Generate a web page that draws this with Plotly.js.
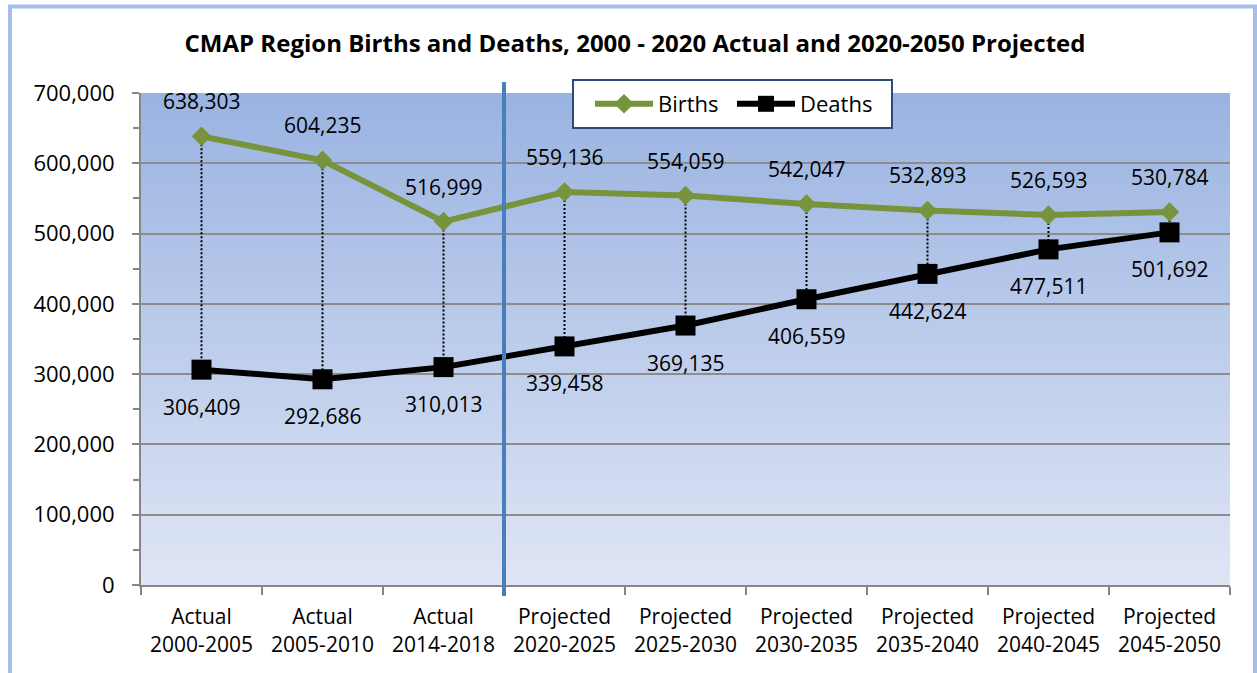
<!DOCTYPE html>
<html>
<head>
<meta charset="utf-8">
<script src="https://cdn.plot.ly/plotly-3.0.1.min.js"></script>
<style>
  html, body { margin: 0; padding: 0; background: #ffffff; }
  #chart { width: 1257px; height: 673px; }
</style>
</head>
<body>
<div id="chart"></div>
<script>
// Period labels (two lines each)
const periodKind = ['Actual', 'Actual', 'Actual', 'Projected', 'Projected', 'Projected', 'Projected', 'Projected', 'Projected'];
const periodYears = ['2000-2005', '2005-2010', '2014-2018', '2020-2025', '2025-2030', '2030-2035', '2035-2040', '2040-2045', '2045-2050'];

// Births and deaths per period
const births = [638303, 604235, 516999, 559136, 554059, 542047, 532893, 526593, 530784];
const deaths = [306409, 292686, 310013, 339458, 369135, 406559, 442624, 477511, 501692];

const FONT = 'Open Sans, Noto Sans, sans-serif';
const categories = periodKind.map((k, i) => k + '<br>' + periodYears[i]);
const fmt = v => v.toLocaleString('en-US');

// Dotted drop lines joining births and deaths in each period
const dropX = [], dropY = [];
categories.forEach((c, i) => {
  dropX.push(c, c, null);
  dropY.push(births[i], deaths[i], null);
});

const traces = [
  {
    x: dropX, y: dropY, type: 'scatter', mode: 'lines',
    line: { color: '#000000', width: 2, dash: '2px,2px' },
    hoverinfo: 'skip', showlegend: false
  },
  {
    name: 'Births', x: categories, y: births, type: 'scatter', mode: 'lines+markers',
    line: { color: '#77933c', width: 6 },
    marker: { symbol: 'diamond', size: 15, color: '#77933c' }
  },
  {
    name: 'Deaths', x: categories, y: deaths, type: 'scatter', mode: 'lines+markers',
    line: { color: '#000000', width: 6 },
    marker: { symbol: 'square', size: 20, color: '#000000' }
  }
];

// Value labels above births, below deaths
const annotations = [];
categories.forEach((c, i) => {
  annotations.push({ x: c, y: births[i], text: fmt(births[i]), showarrow: false, yshift: 35,
    font: { family: FONT, size: 21, color: '#000000' } });
  annotations.push({ x: c, y: deaths[i], text: fmt(deaths[i]), showarrow: false, yshift: -37,
    font: { family: FONT, size: 21, color: '#000000' } });
});

// Vertical gradient for the plot area
const gradSvg = "<svg xmlns='http://www.w3.org/2000/svg' width='10' height='100' viewBox='0 0 10 100' preserveAspectRatio='none'>" +
  "<defs><linearGradient id='g' x1='0' y1='0' x2='0' y2='1'>" +
  "<stop offset='0' stop-color='#99b3e1'/><stop offset='1' stop-color='#dfe5f5'/>" +
  "</linearGradient></defs><rect width='10' height='100' fill='url(#g)'/></svg>";
const gradUri = 'data:image/svg+xml;charset=utf-8,' + encodeURIComponent(gradSvg);

const W = 1257, H = 673;
const L = 141, R = 27, T = 93, B = 88;
const pw = W - L - R, ph = H - T - B;
const px = v => (v - L) / pw;          // pixel x -> paper
const py = v => (H - B - v) / ph;      // pixel y -> paper

const layout = {
  width: W, height: H,
  margin: { l: L, r: R, t: T, b: B, pad: 0 },
  paper_bgcolor: '#ffffff',
  plot_bgcolor: '#bccbeb',
  font: { family: FONT, color: '#000000' },
  title: {
    text: '<b>CMAP Region Births and Deaths, 2000 - 2020 Actual and 2020-2050 Projected</b>',
    font: { family: FONT, size: 24, color: '#000000' },
    xref: 'container', x: 635 / W, xanchor: 'center',
    yref: 'container', y: 1 - 44 / H, yanchor: 'middle'
  },
  xaxis: {
    type: 'category', tickson: 'boundaries',
    ticks: 'outside', ticklen: 8, tickwidth: 2, tickcolor: '#868686',
    showline: true, linecolor: '#868686', linewidth: 2,
    showgrid: false, zeroline: false,
    tickfont: { family: FONT, size: 21, color: '#000000' },
    ticklabelstandoff: 12,
    range: [-0.5, 8.5], fixedrange: true
  },
  yaxis: {
    range: [0, 700000], dtick: 100000, tickformat: ',d',
    ticks: 'outside', ticklen: 7, tickwidth: 2, tickcolor: '#868686',
    minor: { dtick: 50000, ticks: 'outside', ticklen: 6, tickwidth: 2, tickcolor: '#868686', showgrid: false },
    showline: true, linecolor: '#868686', linewidth: 2,
    showgrid: true, gridcolor: '#8c8c8c', gridwidth: 2,
    zeroline: false,
    tickfont: { family: FONT, size: 22, color: '#000000' },
    ticklabelstandoff: 13,
    fixedrange: true
  },
  legend: {
    orientation: 'h',
    x: px(590), xanchor: 'left', xref: 'paper',
    y: py(83), yanchor: 'top', yref: 'paper',
    bgcolor: 'rgba(0,0,0,0)', borderwidth: 0,
    itemwidth: 58, entrywidth: 69, entrywidthmode: 'pixels',
    font: { family: FONT, size: 22, color: '#000000' }
  },
  images: [{
    source: gradUri, xref: 'paper', yref: 'paper',
    x: 0, y: 1, sizex: 1, sizey: 1, xanchor: 'left', yanchor: 'top',
    sizing: 'stretch', layer: 'below'
  }],
  shapes: [
    // outer chart frame
    { type: 'rect', xref: 'paper', yref: 'paper',
      x0: px(10), x1: px(1255), y0: py(700), y1: py(6.5),
      line: { color: '#a7bfe7', width: 4 }, fillcolor: 'rgba(0,0,0,0)', layer: 'below' },
    // divider between actual and projected periods
    { type: 'line', xref: 'x', yref: 'paper',
      x0: 2.5, x1: 2.5, y0: py(596), y1: py(82),
      line: { color: '#4a7ebb', width: 4 }, layer: 'above' },
    // legend box
    { type: 'rect', xref: 'paper', yref: 'paper',
      x0: px(573), x1: px(892), y0: py(128), y1: py(80),
      line: { color: '#2c4a7a', width: 2 }, fillcolor: '#ffffff', layer: 'above' }
  ],
  annotations: annotations,
  hovermode: false
};

Plotly.newPlot('chart', traces, layout, { displayModeBar: false, staticPlot: true });
</script>
</body>
</html>
